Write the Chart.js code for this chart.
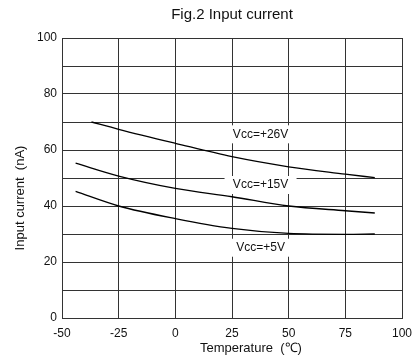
<!DOCTYPE html>
<html>
<head>
<meta charset="utf-8">
<script src="https://cdn.jsdelivr.net/npm/chart.js@4/dist/chart.umd.min.js"></script>
<style>
  body { margin: 0; background: #fff; }
  canvas { display: block; }
</style>
</head>
<body>
<canvas id="myChart" width="414" height="358"></canvas>
<script>
// values
const temps26 = [-37, -25, 0, 25, 50, 75, 88];
const vcc26 = [70, 67.4, 62.4, 57.6, 54, 51.4, 50.1];
const temps15 = [-44, -25, 0, 25, 50, 75, 88];
const vcc15 = [55.3, 50.7, 46.3, 43.3, 40, 38.3, 37.5];
const temps5 = [-44, -25, 0, 25, 50, 75, 88];
const vcc5 = [45.2, 40, 35.5, 32, 30.2, 29.9, 30];

const curveLabels = ['Vcc=+26V', 'Vcc=+15V', 'Vcc=+5V'];
const labelTemp = [37.6, 37.6, 37.6];
const labelCurrent = [65.6, 47.5, 25.1];

const FONT = "'Liberation Sans', Arial, sans-serif";
const gridColor = '#333';

const toPoints = (xs, ys) => xs.map((x, i) => ({ x: x, y: ys[i] }));

// text labels with white boxes, drawn over the grid but under the curves
const curveLabelPlugin = {
    id: 'curveLabels',
    beforeDatasetsDraw(chart) {
        const { ctx, scales: { x, y } } = chart;
        ctx.save();
        ctx.font = '12px ' + FONT;
        ctx.textAlign = 'center';
        ctx.textBaseline = 'middle';
        curveLabels.forEach((txt, i) => {
            const px = x.getPixelForValue(labelTemp[i]);
            const py = y.getPixelForValue(labelCurrent[i]);
            ctx.fillStyle = '#fff';
            ctx.fillRect(px - 36, py - 9, 72, 18);
            ctx.fillStyle = '#111';
            ctx.fillText(txt, px, py);
        });
        ctx.restore();
    }
};

// axis titles, placed off-centre like in the original figure
const axisTitlePlugin = {
    id: 'axisTitles',
    afterDraw(chart) {
        const { ctx } = chart;
        ctx.save();
        ctx.fillStyle = '#111';
        ctx.font = '13px ' + FONT;
        ctx.textBaseline = 'middle';
        ctx.textAlign = 'left';
        ctx.fillText('Temperature\u00a0\u00a0(\u2103)', 200, 348);
        ctx.translate(20, 198);
        ctx.rotate(-Math.PI / 2);
        ctx.textAlign = 'center';
        ctx.fillText('Input current  (nA)', 0, 0);
        ctx.restore();
    }
};

const lineStyle = {
    borderColor: '#000',
    borderWidth: 1.3,
    pointRadius: 0,
    fill: false,
    cubicInterpolationMode: 'monotone'
};

const ctx = document.getElementById('myChart').getContext('2d');
const myChart = new Chart(ctx, {
    type: 'line',
    data: {
        datasets: [
            { label: curveLabels[0], data: toPoints(temps26, vcc26), ...lineStyle },
            { label: curveLabels[1], data: toPoints(temps15, vcc15), ...lineStyle },
            { label: curveLabels[2], data: toPoints(temps5, vcc5), ...lineStyle }
        ]
    },
    options: {
        responsive: false,
        animation: false,
        devicePixelRatio: 1,
        layout: { padding: { top: 0, left: 0, right: 12, bottom: 0 } },
        plugins: {
            legend: { display: false },
            tooltip: { enabled: false },
            title: {
                display: true,
                text: 'Fig.2 Input current',
                fullSize: false,
                color: '#111',
                font: { family: FONT, size: 15, weight: 'normal' },
                padding: { top: 6, bottom: 14 }
            }
        },
        scales: {
            x: {
                type: 'linear',
                min: -50,
                max: 100,
                afterFit(scale) {
                    scale.height = 40;
                    scale.paddingLeft = 0;
                    scale.paddingRight = 0;
                },
                ticks: {
                    stepSize: 25,
                    color: '#111',
                    padding: 8,
                    maxRotation: 0,
                    font: { family: FONT, size: 12 }
                },
                grid: { color: gridColor, drawTicks: false },
                border: { color: gridColor }
            },
            y: {
                min: 0,
                max: 100,
                afterFit(scale) {
                    scale.width = 62;
                    scale.paddingTop = 0;
                    scale.paddingBottom = 0;
                },
                ticks: {
                    stepSize: 10,
                    color: '#111',
                    padding: 5,
                    font: { family: FONT, size: 12 },
                    callback: v => (v % 20 === 0 ? v : '')
                },
                grid: { color: gridColor, drawTicks: false },
                border: { color: gridColor }
            }
        }
    },
    plugins: [curveLabelPlugin, axisTitlePlugin]
});
</script>
</body>
</html>
